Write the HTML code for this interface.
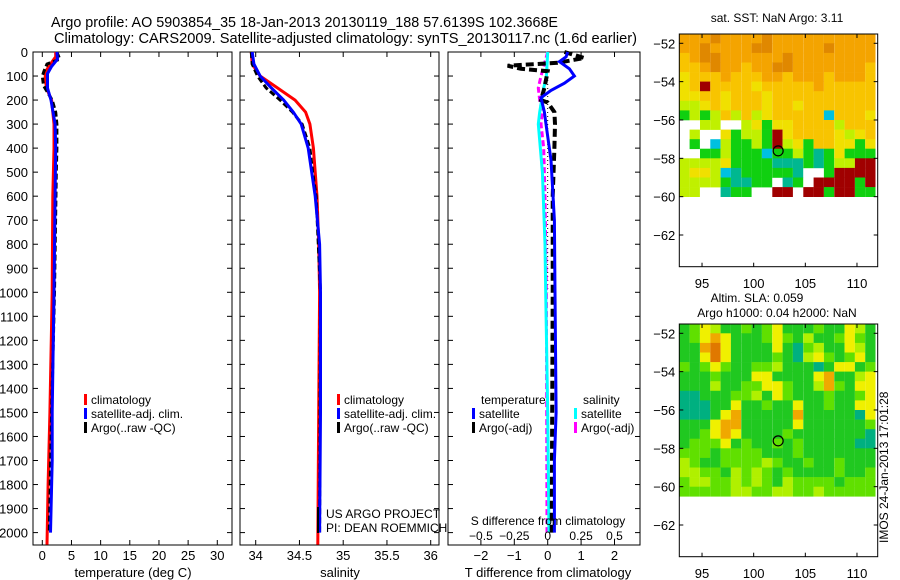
<!DOCTYPE html>
<html><head><meta charset="utf-8"><style>
html,body{margin:0;padding:0;background:#fff}
svg{display:block;font-family:"Liberation Sans",sans-serif}
text{fill:#000}
</style></head><body>
<svg id="s" width="900" height="580" viewBox="0 0 900 580" xmlns="http://www.w3.org/2000/svg">
<text x="51" y="27" font-size="15" textLength="507" lengthAdjust="spacingAndGlyphs">Argo profile: AO 5903854_35 18-Jan-2013 20130119_188 57.6139S 102.3668E</text>
<text x="54" y="43" font-size="15" textLength="583" lengthAdjust="spacingAndGlyphs">Climatology: CARS2009. Satellite-adjusted climatology: synTS_20130117.nc (1.6d earlier)</text>
<g id="g"></g>
</svg>
<script>
// ---- profile data ----
const tClimDepth=[0,20,50,80,100,150,200,300,400,600,1000,1500,1800,2050];
const tClimVal=[2.3,2.3,1.4,0.6,0.5,0.7,1.6,2.0,2.0,1.8,1.7,1.3,1.0,0.8];
const tSatDepth=[0,30,60,90,150,200,300,400,600,1000,1500,1700,2000];
const tSatVal=[2.5,2.6,1.6,0.9,0.9,1.5,2.2,2.3,2.2,2.0,1.7,1.7,1.4];
const tArgoDepth=[0,30,50,80,100,140,200,250,300,400,500,1000,1500,2000];
const tArgoVal=[2.5,3.0,0.8,0.3,0.0,0.2,1.7,2.3,2.5,2.5,2.4,2.1,1.6,1.2];
const sClimDepth=[0,50,100,150,200,250,300,400,600,800,1000,1500,2050];
const sClimVal=[33.95,33.96,34.05,34.25,34.45,34.57,34.62,34.66,34.70,34.72,34.73,34.72,34.71];
const sSatDepth=[0,50,100,150,200,250,300,400,500,600,800,1000,1500,2000];
const sSatVal=[33.96,33.98,34.05,34.18,34.32,34.43,34.52,34.60,34.64,34.68,34.73,34.74,34.74,34.73];
const sArgoDepth=[0,50,100,150,200,250,300,400,500,600,1000,2000];
const sArgoVal=[33.95,33.96,34.02,34.12,34.28,34.42,34.53,34.62,34.65,34.69,34.74,34.73];
const dTSatDepth=[0,20,40,70,100,130,160,190,250,300,450,700,1000,1500,1700,2000];
const dTSatVal=[0.6,0.55,0.35,0.65,0.8,0.5,0.1,-0.2,-0.1,-0.05,0.1,0.2,0.22,0.25,0.2,0.2];
const dTArgoDepth=[0,25,45,57,70,80,150,200,210,250,300,400,600,1000,2000];
const dTArgoVal=[0.5,1.1,0.3,-1.2,-0.8,0.0,-0.1,-0.2,0.0,0.2,0.22,0.2,0.15,0.15,0.12];
const dSSatDepth=[0,100,150,250,300,500,800,1000,1500,2000];
const dSSatVal=[0.0,-0.01,-0.03,-0.06,-0.07,-0.04,-0.02,-0.015,0.0,0.01];
const dSArgoDepth=[0,60,100,150,200,250,300,400,600,1000,2000];
const dSArgoVal=[0.0,-0.03,-0.05,-0.07,-0.06,-0.04,-0.05,-0.03,-0.02,-0.01,-0.005];
const depthTicks=[0,100,200,300,400,500,600,700,800,900,1000,1100,1200,1300,1400,1500,1600,1700,1800,1900,2000];
const tTicks=[0,5,10,15,20,25,30];
const sTicks=[34,34.5,35,35.5,36];
const sTickLabels=["34","34.5","35","35.5","36"];
const dTTicks=[-2,-1,0,1,2];
const dSTicks=[-0.5,-0.25,0,0.25,0.5];
const dSTickLabels=["\u22120.5","\u22120.25","0","0.25","0.5"];
// ---- map data ----
const lonTicks=[95,100,105,110];
const latTicks=[-52,-54,-56,-58,-60,-62];
const sstRows=[
"OOODOOOODOOOOOOOOOO","OODOOOODDOOOOODOOOO","YODDOOOOOODOOOOOOOO","YYODOOYOODDOOOOOOOY",
"LYYYOYYYOOYOOOYOOOY","LYRYYYYLYYYYYOYYYYY","LLYYLYYYLYYYYYYYYYY","GGLYLYYYLYYLYYYYYYY",
"gGgGYGYGLYYYYYcYYYL","..GG..GLgLLYYYYGYYY",".G..LgGGgRLYYYYLGLY",".g.cGggGgRGLgYYLLgL",
"..ggGgggcggGgtgLggg","GGGGLggggtttgtgGGRR","GLLGctgggggt..gRRRR","GGGGgttgg.tg.RRRRgR",
"GG..tgg..RR.RRgRRgg"];
const slaRows=[
"glYygglglYggglggYyg","glYOYggglYlgygglYlg","ggODYggggYgtlyggYyg","ggYDYgggglgtyYlglYg",
"lglYlggllygggtgYYgl","ggglgggYYggggYOggyY","gggyggllYYlggyOlgYY","ttgggllygYlggglgglY",
"tttggYgglggYgglggYY","tttgYOgggggOgggggtY","gggYOOgggggYggggggl","gglYOYgggglgggggggt",
"glllYglgglglgggggtt","lllgllllggglggggggg","ylggllllylgglgglggg","yyllgylylglgggglggl",
"lyyllylylgyllllglll","lllllyyllyyllylllll"];
const sstColors={D:"#e08800",O:"#f4a400",Y:"#f8c400",L:"#f0e000",G:"#c0f000",g:"#10d010",t:"#00b890",c:"#00c0e0",R:"#a00000"};
const slaColors={g:"#20c820",l:"#60e000",y:"#b0f000",Y:"#f0f000",O:"#f0a800",D:"#e07800",t:"#00b080"};
const argoLon=102.37, argoLat=-57.61;

const NS="http://www.w3.org/2000/svg";
const G=document.getElementById('g');
function el(tag,attrs,parent){const e=document.createElementNS(NS,tag);for(const k in attrs)e.setAttribute(k,attrs[k]);(parent||G).appendChild(e);return e;}
function txt(s,attrs,parent){const e=el('text',attrs,parent);e.textContent=s;return e;}
const yD=d=>52+d*0.2403;
const BOT=545;
const xT=v=>42.3+v*5.833;
const xS=v=>255.7+(v-34)*87.5;
const xDT=v=>547.7+v*33.4;
const xDS=v=>547.7+v*133.6;
function line(ds,vs,xf,color,w,dash,name){
  const p=el('polyline',{points:ds.map((d,i)=>xf(vs[i]).toFixed(1)+','+yD(d).toFixed(1)).join(' '),fill:'none',stroke:color,'stroke-width':w});
  if(dash)p.setAttribute('stroke-dasharray',dash);
  
  
}
function frame(x0,x1,name){
  const r=el('rect',{x:x0,y:52,width:x1-x0,height:BOT-52,fill:'none',stroke:'#000','stroke-width':1});
  
  
  depthTicks.forEach(d=>{el('line',{x1:x0,x2:x0+5,y1:yD(d),y2:yD(d),stroke:'#000'});el('line',{x1:x1-5,x2:x1,y1:yD(d),y2:yD(d),stroke:'#000'});});
}
function xticks(ticks,labels,xf,ly){
  ticks.forEach((t,i)=>{const x=xf(t);el('line',{x1:x,x2:x,y1:52,y2:57,stroke:'#000'});el('line',{x1:x,x2:x,y1:BOT-5,y2:BOT,stroke:'#000'});
    const e=txt(labels[i],{x:x,y:ly,'font-size':13,'text-anchor':'middle'});
    
    });
}
// panel 1
frame(33,232,'temperature-panel');
depthTicks.forEach(d=>{const e=txt(String(d),{x:28,y:yD(d)+5,'font-size':13,'text-anchor':'end'});
  
  });
xticks(tTicks,tTicks.map(String),xT,560);
line(tClimDepth,tClimVal,xT,'#f00',3,null,'temp-climatology-line');
line(tArgoDepth,tArgoVal,xT,'#000',3,'6,3','temp-argo-line');
line(tSatDepth,tSatVal,xT,'#00f',3,null,'temp-satellite-line');
txt('temperature (deg C)',{x:133,y:577,'font-size':13,'text-anchor':'middle',});
// panel 2
frame(240,439,'salinity-panel');
xticks(sTicks,sTickLabels,xS,560);
line(sClimDepth,sClimVal,xS,'#f00',3,null,'sal-climatology-line');
line(sArgoDepth,sArgoVal,xS,'#000',3,'6,3','sal-argo-line');
line(sSatDepth,sSatVal,xS,'#00f',3,null,'sal-satellite-line');
txt('salinity',{x:340,y:577,'font-size':13,'text-anchor':'middle',});
// legends
function legend(x,y,color,label,name){
  const g=el('g',{});
  el('rect',{x:x,y:y-10,width:3,height:11,fill:color},g);
  txt(label,{x:x+7,y:y,'font-size':12},g);
}
[[84,'#f00','climatology'],[84,'#00f','satellite-adj. clim.'],[84,'#000','Argo(..raw -QC)']].forEach((l,i)=>legend(l[0],404+i*14,l[1],l[2],'temp-legend-entry'));
[[337,'#f00','climatology'],[337,'#00f','satellite-adj. clim.'],[337,'#000','Argo(..raw -QC)']].forEach((l,i)=>legend(l[0],404+i*14,l[1],l[2],'sal-legend-entry'));
el('rect',{x:317,y:507,width:2,height:26,fill:'#000'});
txt('US ARGO PROJECT',{x:326,y:518,'font-size':12,});
txt('PI: DEAN ROEMMICH',{x:326,y:532,'font-size':12,});
// panel 3
frame(448,640,'difference-panel');
dTTicks.forEach(t=>{const x=xDT(t);el('line',{x1:x,x2:x,y1:52,y2:57,stroke:'#000'});el('line',{x1:x,x2:x,y1:BOT-5,y2:BOT,stroke:'#000'});
  const e=txt(t<0?'\u2212'+(-t):String(t),{x:x,y:560,'font-size':13,'text-anchor':'middle'});
  
  });
el('line',{x1:xDT(0),x2:xDT(0),y1:52,y2:yD(1000),stroke:'#000','stroke-dasharray':'1,3'});
line(dSArgoDepth,dSArgoVal,xDS,'#f0f',3,'6,3','sal-diff-argo-line');
line(dSSatDepth,dSSatVal,xDS,'#0ff',3,null,'sal-diff-satellite-line');
line(dTArgoDepth,dTArgoVal,xDT,'#000',4,'8,4','temp-diff-argo-line');
line(dTSatDepth,dTSatVal,xDT,'#00f',3,null,'temp-diff-satellite-line');
txt('temperature',{x:481,y:404,'font-size':12,});
txt('salinity',{x:583,y:404,'font-size':12,});
legend(472,418,'#00f','satellite','diff-legend-temp-sat');
legend(472,432,'#000','Argo(-adj)','diff-legend-temp-argo');
legend(574,418,'#0ff','satellite','diff-legend-sal-sat');
legend(574,432,'#f0f','Argo(-adj)','diff-legend-sal-argo');
txt('S difference from climatology',{x:548,y:525,'font-size':12,'text-anchor':'middle',});
dSTicks.forEach((t,i)=>{const e=txt(dSTickLabels[i],{x:xDS(t),y:540,'font-size':12,'text-anchor':'middle'});
  
  });
txt('T difference from climatology',{x:548,y:577,'font-size':13,'text-anchor':'middle',});
// maps
const mX0=679.3,mX1=877.7;
const mLon=v=>mX0+(v-92.8)*10.33;
function drawMap(top,rows,colors,name){
  const latY=v=>top+9.3+(-52-v)*19.17;
  const g=el('g',{});
  rows.forEach((r,ri)=>{const la0=-51.5-ri*0.5;
    for(let ci=0;ci<r.length;ci++){const c=colors[r[ci]];if(!c)continue;
      const lo=93+ci, x=Math.max(mX0,mLon(lo-0.2)), x2=Math.min(mX1,mLon(lo+0.8));
      const cell=el('rect',{x:x.toFixed(1),y:latY(la0).toFixed(1),width:(x2-x).toFixed(1),height:(19.17*0.5+0.3).toFixed(1),fill:c},g);
      
      }});
  el('rect',{x:mX0,y:top,width:mX1-mX0,height:232.7,fill:'none',stroke:'#000'},g);
  lonTicks.forEach(l=>{const x=mLon(l);el('line',{x1:x,x2:x,y1:top,y2:top+4,stroke:'#000'},g);el('line',{x1:x,x2:x,y1:top+228.7,y2:top+232.7,stroke:'#000'},g);
    txt(String(l),{x:x,y:top+254,'font-size':13,'text-anchor':'middle'},g);});
  latTicks.forEach(l=>{const y=latY(l);el('line',{x1:mX0,x2:mX0+4,y1:y,y2:y,stroke:'#000'},g);el('line',{x1:mX1-4,x2:mX1,y1:y,y2:y,stroke:'#000'},g);
    txt('\u2212'+(-l),{x:mX0-4,y:y+5,'font-size':13,'text-anchor':'end'},g);});
  const c=el('circle',{cx:mLon(argoLon),cy:latY(argoLat),r:5,fill:'none',stroke:'#000','stroke-width':1.2},g);
  
  
}
drawMap(34,sstRows,sstColors,'sst-map');
drawMap(324,slaRows,slaColors,'sla-map');
txt('sat. SST: NaN Argo: 3.11',{x:777,y:22,'font-size':12,'text-anchor':'middle',});
txt('Altim. SLA: 0.059',{x:757,y:302,'font-size':12,'text-anchor':'middle',});
txt('Argo h1000: 0.04 h2000: NaN',{x:777,y:317,'font-size':12,'text-anchor':'middle',});
txt('IMOS 24-Jan-2013 17:01:28',{x:0,y:0,'font-size':12,transform:'translate(888,543) rotate(-90)',});
</script>
</body></html>
